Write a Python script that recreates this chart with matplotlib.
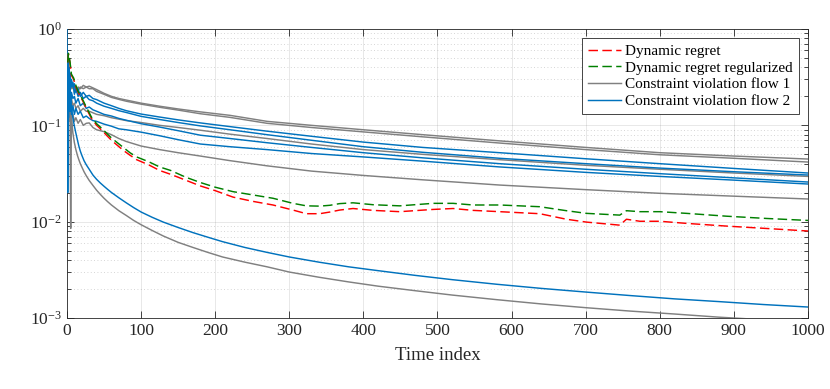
import matplotlib
matplotlib.use('Agg')
import matplotlib.pyplot as plt
from matplotlib.ticker import LogLocator, FixedLocator, NullFormatter

plt.rcParams['font.family'] = ['Liberation Serif', 'DejaVu Serif']
plt.rcParams['mathtext.fontset'] = 'stix'

# --- dashed regret curves (time index, value) ---
t_reg = [1, 2, 4, 6, 9, 12, 15, 18, 22, 26, 33, 40, 47, 54, 60, 68, 76, 85, 94,
         110, 125, 140, 160, 180, 200, 224, 250, 278, 305, 323, 341, 355, 368,
         386, 413, 449, 494, 521, 548, 584, 638, 674, 701, 746, 755, 773, 800,
         836, 890, 944, 1000]
regret = [0.45, 0.55, 0.45, 0.33, 0.30, 0.25, 0.22, 0.20, 0.175, 0.15, 0.118,
          0.10, 0.089, 0.078, 0.070, 0.062, 0.055, 0.049, 0.044, 0.039, 0.034,
          0.031, 0.027, 0.0235, 0.021, 0.018, 0.0163, 0.0149, 0.0132, 0.0121,
          0.0121, 0.0126, 0.0132, 0.0137, 0.0131, 0.0127, 0.0134, 0.0137,
          0.0131, 0.0127, 0.0121, 0.0106, 0.0099, 0.0092, 0.0106, 0.0101,
          0.0101, 0.0096, 0.0090, 0.0085, 0.0080]
regret_reg = [0.45, 0.56, 0.46, 0.34, 0.31, 0.26, 0.225, 0.205, 0.18, 0.155,
              0.122, 0.104, 0.093, 0.082, 0.074, 0.066, 0.059, 0.052, 0.047,
              0.042, 0.037, 0.034, 0.029, 0.0255, 0.0228, 0.0205, 0.019,
              0.0175, 0.0155, 0.0146, 0.0145, 0.0148, 0.0154, 0.0157, 0.015,
              0.0146, 0.0155, 0.0155, 0.0149, 0.0149, 0.0143, 0.013, 0.0122,
              0.0117, 0.013, 0.0127, 0.0127, 0.0122, 0.0114, 0.0108, 0.0103]

# --- constraint violation curves in the upper band ---
t_cv = [0, 1, 2, 3, 4, 5, 6, 8, 10, 12, 15, 18, 22, 26, 30, 35, 40, 50, 60, 70,
        80, 100, 125, 150, 180, 220, 270, 330, 400, 480, 584, 700, 800, 900, 1000]

flow1 = [
    [0.35, 0.2, 0.28, 0.22, 0.3, 0.25, 0.27, 0.24, 0.26, 0.23, 0.25, 0.24, 0.26,
     0.25, 0.255, 0.245, 0.235, 0.215, 0.2, 0.19, 0.183, 0.17, 0.158, 0.148,
     0.138, 0.127, 0.11, 0.1, 0.09, 0.08, 0.069, 0.059, 0.052, 0.048, 0.0447],
    [0.3, 0.25, 0.2, 0.3, 0.26, 0.3, 0.24, 0.27, 0.22, 0.25, 0.23, 0.25, 0.24,
     0.25, 0.24, 0.24, 0.225, 0.21, 0.195, 0.186, 0.178, 0.166, 0.154, 0.144,
     0.132, 0.121, 0.105, 0.095, 0.0855, 0.076, 0.0655, 0.056, 0.0495, 0.0455, 0.0416],
    [0.25, 0.15, 0.2, 0.14, 0.18, 0.15, 0.19, 0.16, 0.17, 0.15, 0.16, 0.14, 0.15,
     0.14, 0.14, 0.135, 0.13, 0.126, 0.12, 0.116, 0.112, 0.107, 0.1, 0.095,
     0.089, 0.081, 0.073, 0.064, 0.056, 0.05, 0.044, 0.0385, 0.035, 0.032, 0.0295],
    [0.1, 0.2, 0.12, 0.16, 0.11, 0.14, 0.12, 0.13, 0.11, 0.12, 0.105, 0.115, 0.1,
     0.105, 0.106, 0.095, 0.09, 0.086, 0.08, 0.073, 0.068, 0.061, 0.056, 0.052,
     0.048, 0.043, 0.038, 0.0335, 0.0302, 0.0272, 0.024, 0.0215, 0.0197, 0.0184, 0.0172],
]
flow2 = [
    [0.4, 0.3, 0.45, 0.3, 0.35, 0.26, 0.3, 0.25, 0.27, 0.22, 0.24, 0.2, 0.22,
     0.2, 0.205, 0.19, 0.185, 0.17, 0.16, 0.15, 0.142, 0.131, 0.122, 0.114,
     0.106, 0.097, 0.087, 0.077, 0.067, 0.059, 0.052, 0.045, 0.04, 0.0357, 0.032],
    [0.3, 0.5, 0.25, 0.4, 0.22, 0.3, 0.25, 0.28, 0.21, 0.24, 0.2, 0.22, 0.19,
     0.2, 0.185, 0.18, 0.17, 0.158, 0.15, 0.142, 0.136, 0.124, 0.115, 0.107,
     0.0987, 0.09, 0.08, 0.07, 0.06, 0.0525, 0.0455, 0.04, 0.036, 0.033, 0.0305],
    [0.2, 0.15, 0.3, 0.18, 0.25, 0.17, 0.22, 0.19, 0.2, 0.17, 0.19, 0.16, 0.17,
     0.15, 0.155, 0.145, 0.14, 0.13, 0.125, 0.118, 0.113, 0.104, 0.096, 0.088,
     0.079, 0.073, 0.066, 0.059, 0.052, 0.046, 0.04, 0.035, 0.0315, 0.0285, 0.0258],
    [0.15, 0.25, 0.12, 0.2, 0.14, 0.18, 0.13, 0.16, 0.13, 0.15, 0.13, 0.14, 0.12,
     0.125, 0.118, 0.112, 0.11, 0.103, 0.098, 0.092, 0.09, 0.085, 0.078, 0.071,
     0.064, 0.06, 0.056, 0.051, 0.047, 0.0425, 0.037, 0.0325, 0.0295, 0.027, 0.0246],
]

# --- the two fast-decaying constraint violation curves ---
t_low = [0, 1, 2, 3, 4, 5, 6, 7, 8, 10, 12, 14, 16, 18, 20, 23, 26, 30, 35, 40,
         45, 50, 55, 60, 70, 80, 90, 100, 115, 130, 150, 170, 190, 210, 240, 270,
         300, 340, 380, 420, 470, 520, 580, 640, 700, 760, 820, 880, 940, 1000]
flow1_low = [0.5, 0.3, 0.4, 0.25, 0.2, 0.0085, 0.13, 0.1, 0.083, 0.066, 0.056,
             0.049, 0.044, 0.04, 0.037, 0.033, 0.03, 0.0268, 0.0238, 0.0212,
             0.0192, 0.0175, 0.0161, 0.0149, 0.013, 0.0116, 0.0103, 0.0093,
             0.0081, 0.0071, 0.0061, 0.0054, 0.0048, 0.0043, 0.0038, 0.0034,
             0.0030, 0.00265, 0.00237, 0.00214, 0.00192, 0.00173, 0.00155,
             0.0014, 0.00128, 0.00118, 0.0011, 0.00102, 0.00096, 0.0009]
flow2_low = [1.0, 0.02, 0.25, 0.3, 0.22, 0.18, 0.155, 0.135, 0.12, 0.098, 0.083,
             0.071, 0.061, 0.054, 0.049, 0.043, 0.039, 0.035, 0.0305, 0.0275,
             0.0252, 0.0233, 0.0216, 0.0201, 0.0177, 0.0157, 0.014, 0.0126,
             0.0111, 0.0099, 0.0087, 0.0077, 0.0069, 0.0062, 0.0054, 0.0048,
             0.0043, 0.0038, 0.0034, 0.0031, 0.00277, 0.0025, 0.00224, 0.00203,
             0.00186, 0.00171, 0.00158, 0.00148, 0.00138, 0.0013]

x_ticks = [0, 100, 200, 300, 400, 500, 600, 700, 800, 900, 1000]

fig = plt.figure(figsize=(8.3, 3.89), dpi=100)
ax = fig.add_axes([0.0807, 0.1825, 0.8928, 0.7429])

lw = 1.05
gray, blue = '#808080', '#0072BD'
h_red, = ax.plot(t_reg, regret, color='#FF0000', lw=lw, dashes=(6.5, 3), zorder=4)
h_green, = ax.plot(t_reg, regret_reg, color='#008000', lw=lw, dashes=(6.5, 3), zorder=4)
for y in flow1:
    h_gray, = ax.plot(t_cv, y, color=gray, lw=lw, zorder=2)
ax.plot(t_low, flow1_low, color=gray, lw=lw, zorder=2)
for y in flow2:
    h_blue, = ax.plot(t_cv, y, color=blue, lw=lw, zorder=3)
ax.plot(t_low, flow2_low, color=blue, lw=lw, zorder=3)

ax.set_yscale('log')
ax.set_xlim(0, 1000)
ax.set_ylim(1e-3, 1)
ax.xaxis.set_major_locator(FixedLocator(x_ticks))
ax.yaxis.set_major_locator(LogLocator(base=10, numticks=10))
ax.yaxis.set_minor_locator(LogLocator(base=10, subs=range(2, 10), numticks=20))
ax.yaxis.set_minor_formatter(NullFormatter())

ax.grid(True, which='major', color='#262626', alpha=0.12, lw=0.6)
ax.grid(True, which='minor', axis='y', color='#262626', alpha=0.25, lw=0.6, ls=(0, (1, 3)))

ax.tick_params(which='both', direction='in', top=True, right=True,
               colors='#262626', labelsize=12.5)
ax.tick_params(which='major', length=5, width=0.6)
ax.tick_params(which='minor', length=3, width=0.6)
for s in ax.spines.values():
    s.set_color('#262626')
    s.set_linewidth(0.6)

ax.set_xlabel('Time index', fontsize=13.5, color='#262626', labelpad=6)

leg = ax.legend([h_red, h_green, h_gray, h_blue],
                ['Dynamic regret', 'Dynamic regret regularized',
                 'Constraint violation flow 1', 'Constraint violation flow 2'],
                loc='upper right', fontsize=11, fancybox=False, framealpha=1,
                edgecolor='#262626', handlelength=2.1, labelspacing=0.2,
                borderaxespad=0.6, borderpad=0.4, handletextpad=0.3)
leg.get_frame().set_linewidth(0.6)

fig.savefig('out.png', dpi=100)
